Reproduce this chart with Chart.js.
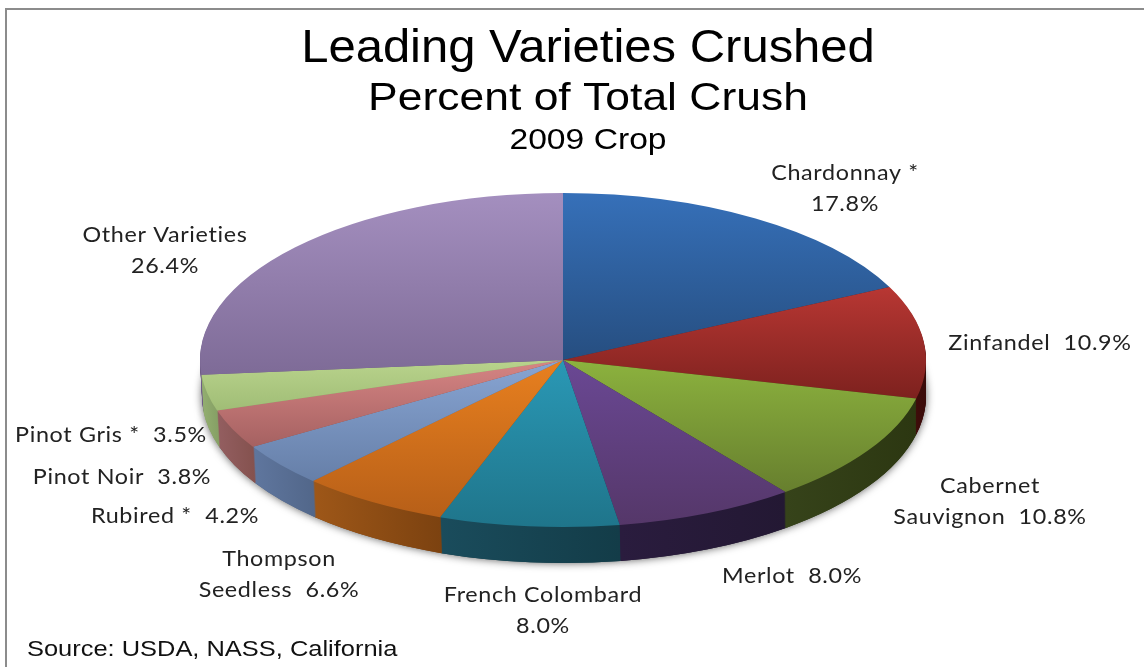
<!DOCTYPE html>
<html>
<head>
<meta charset="utf-8">
<style>
  html, body { margin: 0; background: #fff; }
  canvas { display: block; }
</style>
<script src="https://cdn.jsdelivr.net/npm/chart.js@4"></script>
</head>
<body>
<canvas id="chart" width="1144" height="667"></canvas>
<script>
const categories = ['Chardonnay', 'Zinfandel', 'Cabernet Sauvignon', 'Merlot', 'French Colombard',
    'Thompson Seedless', 'Rubired', 'Pinot Noir', 'Pinot Gris', 'Other Varieties'];
const shares = [17.8, 10.9, 10.8, 8.0, 8.0, 6.6, 4.2, 3.8, 3.5, 26.4];

// top face, light end then dark end of each slice
const faceLight = ['#3670B9', '#B83733', '#8CB23E', '#6A4894', '#2A98B5', '#E8801F', '#88A5D3', '#D68584', '#B9D38C', '#A48FBF'];
const faceDark = ['#264E80', '#7D211E', '#677F2E', '#553769', '#1F758B', '#B75F18', '#667FA8', '#A56161', '#A0BD76', '#7E6B97'];
// side wall, left end then right end
const wallLeft = ['#1B3A60', '#4A100D', '#36431A', '#2A1C3E', '#1A4C5C', '#9E5718', '#5F769E', '#935E60', '#93AE70', '#6E5C85'];
const wallRight = ['#142C48', '#3A0B09', '#2C3711', '#231833', '#133C48', '#7C4210', '#52678A', '#85524F', '#86A065', '#5E4E72'];

const title = [
    { text: 'Leading Varieties Crushed', x: 588, y: 62, font: '46px "Liberation Sans"', stretch: 1.065 },
    { text: 'Percent of Total Crush', x: 588, y: 110, font: '39px "Liberation Sans"', stretch: 1.14 },
    { text: '2009 Crop', x: 588, y: 149, font: '29px "Liberation Sans"', stretch: 1.16 }
];
const source = 'Source: USDA, NASS, California';

const labelLines = [
    ['Chardonnay *', '17.8%'],
    ['Zinfandel  10.9%'],
    ['Cabernet', 'Sauvignon  10.8%'],
    ['Merlot  8.0%'],
    ['French Colombard', '8.0%'],
    ['Thompson', 'Seedless  6.6%'],
    ['Rubired *  4.2%'],
    ['Pinot Noir  3.8%'],
    ['Pinot Gris *  3.5%'],
    ['Other Varieties', '26.4%']
];
const labelAnchors = [[845, 180], [1040, 350], [990, 493], [792, 583], [543, 602], [279, 566], [175, 523], [122, 484], [111, 442], [165, 242]];

// where the flattened pie sits on the page
const pie = { cx: 563, cy: 360, rx: 363, ry: 167, depth: 36 };

function sliceGradient(ctx, el, i) {
    let top = Infinity, bottom = -Infinity;
    for (let k = 0; k <= 40; k++) {
        const a = el.startAngle + (el.endAngle - el.startAngle) * k / 40;
        const y = el.y + el.outerRadius * Math.sin(a);
        top = Math.min(top, y);
        bottom = Math.max(bottom, y);
    }
    top = Math.min(top, el.y);
    bottom = Math.max(bottom, el.y);
    const g = ctx.createLinearGradient(0, top, 0, bottom);
    g.addColorStop(0, faceLight[i]);
    g.addColorStop(1, faceDark[i]);
    return g;
}

function wallGradient(ctx, el, i) {
    let left = Infinity, right = -Infinity;
    for (let k = 0; k <= 40; k++) {
        const a = el.startAngle + (el.endAngle - el.startAngle) * k / 40;
        const x = el.x + el.outerRadius * Math.cos(a);
        left = Math.min(left, x);
        right = Math.max(right, x);
    }
    const g = ctx.createLinearGradient(left, 0, right, 0);
    g.addColorStop(0, wallLeft[i]);
    g.addColorStop(1, wallRight[i]);
    return g;
}

function stretchedText(ctx, text, x, y, stretch) {
    ctx.save();
    ctx.translate(x, y);
    ctx.scale(stretch, 1);
    ctx.fillText(text, 0, 0);
    ctx.restore();
}

const pie3d = {
    id: 'pie3d',
    beforeDatasetDraw(chart) {
        const ctx = chart.ctx;
        const arcs = chart.getDatasetMeta(0).data;
        const first = arcs[0];
        const drawLayer = (offset, paint) => {
            // the lower rim sits a little to the right and is a little narrower
            const t = offset / pie.depth;
            ctx.save();
            ctx.translate(pie.cx + t, pie.cy + offset);
            ctx.scale((pie.rx - t) / first.outerRadius, pie.ry / first.outerRadius);
            ctx.translate(-first.x, -first.y);
            arcs.forEach((el, i) => {
                el.options.backgroundColor = paint(el, i);
                el.draw(ctx);
            });
            ctx.restore();
        };

        // soft shadow under the wall
        ctx.save();
        ctx.shadowColor = 'rgba(0,0,0,0.65)';
        ctx.shadowBlur = 9;
        drawLayer(pie.depth, (el, i) => wallRight[i]);
        ctx.restore();

        for (let d = pie.depth; d > 0; d--) {
            drawLayer(d, (el, i) => wallGradient(ctx, el, i));
        }
        drawLayer(0, (el, i) => sliceGradient(ctx, el, i));
        return false;
    },
    afterDraw(chart) {
        const ctx = chart.ctx;
        ctx.save();

        // frame of the original picture
        ctx.strokeStyle = '#8c8c8c';
        ctx.lineWidth = 2;
        ctx.beginPath();
        ctx.moveTo(6, 667);
        ctx.lineTo(6, 9);
        ctx.lineTo(1144, 9);
        ctx.stroke();

        // the original is a slightly soft screenshot
        ctx.filter = 'blur(0.4px)';
        ctx.textAlign = 'center';
        ctx.fillStyle = '#000';
        title.forEach(t => {
            ctx.font = t.font;
            stretchedText(ctx, t.text, t.x, t.y, t.stretch);
        });

        ctx.fillStyle = '#222';
        ctx.font = '21px Lato';
        ctx.letterSpacing = '0.6px';
        labelLines.forEach((lines, i) => {
            lines.forEach((line, n) => {
                stretchedText(ctx, line, labelAnchors[i][0], labelAnchors[i][1] + n * 31, 1.11);
            });
        });
        ctx.letterSpacing = '0px';

        ctx.textAlign = 'left';
        ctx.fillStyle = '#111';
        ctx.font = '22px "Liberation Sans"';
        stretchedText(ctx, source, 27, 656, 1.156);
        ctx.restore();
    }
};

new Chart(document.getElementById('chart'), {
    type: 'pie',
    data: {
        labels: categories,
        datasets: [{
            data: shares,
            borderWidth: 0,
            backgroundColor: faceLight
        }]
    },
    options: {
        responsive: false,
        animation: false,
        plugins: {
            legend: { display: false },
            tooltip: { enabled: false }
        }
    },
    plugins: [pie3d]
});
</script>
</body>
</html>
